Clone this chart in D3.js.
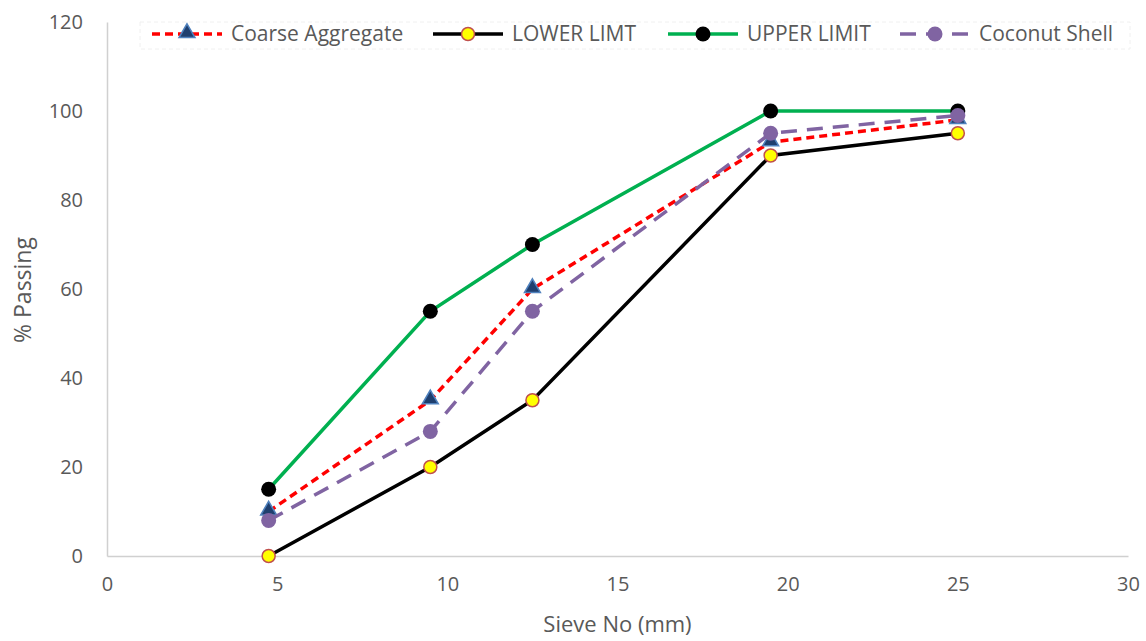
<!DOCTYPE html>
<html>
<head>
<meta charset="utf-8">
<script src="https://cdn.jsdelivr.net/npm/d3@7"></script>
<style>
  html, body { margin: 0; padding: 0; background: #ffffff; }
  svg { display: block; }
  text { font-family: "Open Sans", "Liberation Sans", sans-serif; fill: #595959; }
</style>
</head>
<body>
<svg id="chart" width="1146" height="641"></svg>
<script>
// Sieve sizes (mm) and % passing for each grading curve
const sieveSizes = [4.75, 9.5, 12.5, 19.5, 25];
const coarseAggregate = [10, 35, 60, 93, 98];
const lowerLimit = [0, 20, 35, 90, 95];
const upperLimit = [15, 55, 70, 100, 100];
const coconutShell = [8, 28, 55, 95, 99];

const xTicks = [0, 5, 10, 15, 20, 25, 30];
const yTicks = [0, 20, 40, 60, 80, 100, 120];
const seriesNames = ["Coarse Aggregate", "LOWER LIMT", "UPPER LIMIT", "Coconut Shell"];

const svg = d3.select("#chart");
const plot = { left: 107, right: 1128, top: 22, bottom: 556 };

const x = d3.scaleLinear().domain([0, 30]).range([plot.left, plot.right]);
const y = d3.scaleLinear().domain([0, 120]).range([plot.bottom, plot.top]);

// Axes
const xAxis = svg.append("g")
  .attr("transform", `translate(0,${plot.bottom})`)
  .call(d3.axisBottom(x).tickValues(xTicks).tickSize(0).tickPadding(21));
xAxis.select(".domain").attr("stroke", "#d0d0d0").attr("stroke-width", 1.5);
xAxis.selectAll("text").style("font-size", "20px").attr("fill", "#595959")
  .attr("dy", "0.71em");

const yAxis = svg.append("g")
  .attr("transform", `translate(${plot.left},0)`)
  .call(d3.axisLeft(y).tickValues(yTicks).tickSize(0).tickPadding(24));
yAxis.select(".domain").attr("stroke", "#d0d0d0").attr("stroke-width", 1.5);
yAxis.selectAll("text").style("font-size", "20px").attr("fill", "#595959");

// Axis titles
svg.append("text")
  .attr("x", (plot.left + plot.right) / 2).attr("y", 632)
  .attr("text-anchor", "middle").style("font-size", "22px")
  .text("Sieve No (mm)");
svg.append("text")
  .attr("transform", `translate(31,${(plot.top + plot.bottom) / 2 + 1}) rotate(-90)`)
  .attr("text-anchor", "middle").style("font-size", "23px")
  .text("% Passing");

const line = d3.line().x(d => x(d[0])).y(d => y(d[1]));
const pts = vals => sieveSizes.map((s, i) => [s, vals[i]]);

const styles = [
  { name: seriesNames[0], data: coarseAggregate, color: "#ff0000", dash: "8,5", marker: "tri" },
  { name: seriesNames[1], data: lowerLimit, color: "#000000", dash: null, marker: "yellow" },
  { name: seriesNames[2], data: upperLimit, color: "#00b050", dash: null, marker: "black" },
  { name: seriesNames[3], data: coconutShell, color: "#8064a2", dash: "16,10", marker: "purple" }
];

const triangle = d3.symbol().type(d3.symbolTriangle).size(110);

function drawMarker(g, cx, cy, kind) {
  if (kind === "tri") {
    g.append("path").attr("d", triangle())
      .attr("transform", `translate(${cx},${cy - 1})`)
      .attr("fill", "#1f3f6e").attr("stroke", "#4f81bd").attr("stroke-width", 1.5);
  } else if (kind === "yellow") {
    g.append("circle").attr("cx", cx).attr("cy", cy).attr("r", 6.5)
      .attr("fill", "#ffff00").attr("stroke", "#c0504d").attr("stroke-width", 1.5);
  } else if (kind === "black") {
    g.append("circle").attr("cx", cx).attr("cy", cy).attr("r", 7.5).attr("fill", "#000000");
  } else {
    g.append("circle").attr("cx", cx).attr("cy", cy).attr("r", 7.5).attr("fill", "#8064a2");
  }
}

styles.forEach(s => {
  const g = svg.append("g");
  g.append("path").datum(pts(s.data))
    .attr("d", line).attr("fill", "none")
    .attr("stroke", s.color).attr("stroke-width", 3.5)
    .attr("stroke-dasharray", s.dash);
  pts(s.data).forEach(p => drawMarker(g, x(p[0]), y(p[1]), s.marker));
});

// Legend
svg.append("rect")
  .attr("x", 140).attr("y", 22).attr("width", 990).attr("height", 27)
  .attr("fill", "none").attr("stroke", "#f0f0f0").attr("stroke-dasharray", "4,3");

const legendX = [152, 433, 668, 900];
const legendY = 34;
styles.forEach((s, i) => {
  const g = svg.append("g");
  const x0 = legendX[i];
  g.append("line").attr("x1", x0).attr("x2", x0 + 70)
    .attr("y1", legendY).attr("y2", legendY)
    .attr("stroke", s.color).attr("stroke-width", 3.5)
    .attr("stroke-dasharray", s.dash);
  drawMarker(g, x0 + 35, legendY, s.marker);
  g.append("text").attr("x", x0 + 79).attr("y", legendY + 7)
    .style("font-size", "21px").text(s.name);
});
</script>
</body>
</html>
